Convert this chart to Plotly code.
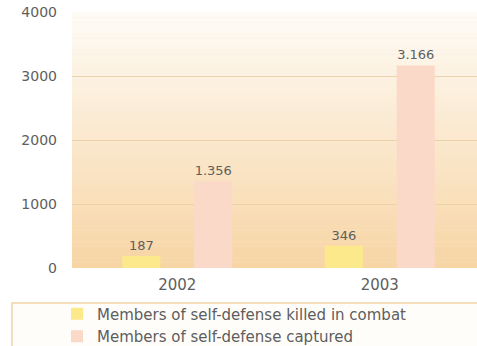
import plotly.graph_objects as go

years = ["2002", "2003"]
killed = [187, 346]
captured = [1356, 3166]
series_names = ["Members of self-defense killed in combat",
                "Members of self-defense captured"]
y_ticks = [0, 1000, 2000, 3000, 4000]

W, H = 477, 346
M_L, M_R, M_T, M_B = 72, 0, 12, 78
plot_h = H - M_T - M_B
plot_w = W - M_L - M_R

FONT = "DejaVu Sans"
TXT = "#5e5e5e"

fig = go.Figure()
fig.add_trace(go.Bar(
    x=years, y=killed, name=series_names[0],
    marker=dict(color="#fbe98c", line=dict(width=0)),
    texttemplate="%{y:,}", textposition="outside",
    textfont=dict(family=FONT, size=13, color=TXT), cliponaxis=False,
))
fig.add_trace(go.Bar(
    x=years, y=captured, name=series_names[1],
    marker=dict(color="#fbd9c8", line=dict(width=0)),
    texttemplate="%{y:,}", textposition="outside",
    textfont=dict(family=FONT, size=13, color=TXT), cliponaxis=False,
))

# vertical gradient behind the plot area: pale cream at the top, warm peach at the bottom
top = (254, 251, 246)
bot = (247, 213, 165)
n = 48
ymax = y_ticks[-1]
shapes = []
for i in range(n):
    t = i / (n - 1)
    c = tuple(round(bot[k] + (top[k] - bot[k]) * t) for k in range(3))
    shapes.append(dict(
        type="rect", xref="paper", yref="y", layer="below",
        x0=0, x1=1, y0=ymax * i / n, y1=ymax * (i + 1) / n,
        fillcolor="rgb(%d,%d,%d)" % c, line=dict(width=0),
    ))

# framed legend strip under the axis
leg_top = -(303 - (H - M_B)) / plot_h
leg_bot = -(M_B + 4) / plot_h
shapes.append(dict(
    type="rect", xref="paper", yref="paper", layer="below",
    x0=(12 - M_L) / plot_w, x1=1.01, y0=leg_bot, y1=leg_top,
    fillcolor="#fffdf9", line=dict(color="#f1d3a6", width=1.5),
))

fig.update_layout(
    width=W, height=H,
    margin=dict(l=M_L, r=M_R, t=M_T, b=M_B, autoexpand=False),
    paper_bgcolor="white", plot_bgcolor="#fbe7c8",
    separators=",.",
    barmode="group", bargap=0.29, bargroupgap=0.47,
    shapes=shapes,
    showlegend=True,
    legend=dict(
        x=(57 - M_L) / plot_w, xanchor="left",
        y=leg_top + 0.021, yanchor="top",
        bgcolor="rgba(0,0,0,0)", borderwidth=0,
        font=dict(family=FONT, size=15, color=TXT),
        tracegroupgap=0, itemsizing="constant",
    ),
    xaxis=dict(
        range=[-0.52, 1.48], showgrid=False, zeroline=False, showline=False,
        ticks="", ticklabelstandoff=6,
        tickfont=dict(family=FONT, size=15, color=TXT),
        fixedrange=True,
    ),
    yaxis=dict(
        range=[0, ymax], tickvals=y_ticks, ticktext=[str(v) for v in y_ticks],
        showgrid=True, gridcolor="#ead3aa", gridwidth=1.2,
        zeroline=False, showline=False, ticks="",
        ticklabelstandoff=14,
        tickfont=dict(family=FONT, size=14, color=TXT),
        fixedrange=True,
    ),
)

fig.write_html("out.html")
